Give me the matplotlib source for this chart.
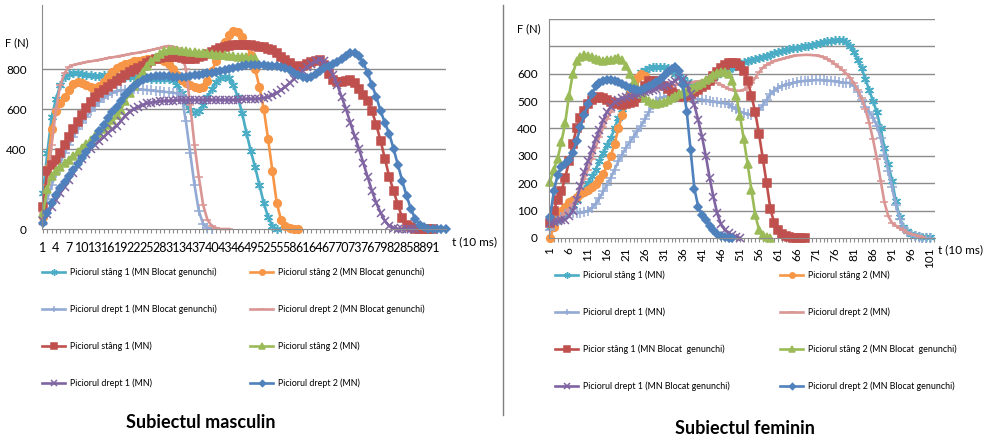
import matplotlib
matplotlib.use('Agg')
import matplotlib.pyplot as plt
from matplotlib.lines import Line2D

plt.rcParams['font.family'] = ['Lato', 'DejaVu Sans']

# ---- left chart: Subiectul masculin (F in N, t in 10 ms) ----
m_names = ['Piciorul stâng 1 (MN Blocat genunchi)', 'Piciorul stâng 2 (MN Blocat genunchi)',
           'Piciorul drept 1 (MN Blocat genunchi)', 'Piciorul drept 2 (MN Blocat genunchi)',
           'Piciorul stâng 1 (MN)', 'Piciorul stâng 2 (MN)',
           'Piciorul drept 1 (MN)', 'Piciorul drept 2 (MN)']

m_stang1_bg = [180, 380, 560, 650, 720, 760, 775, 780, 778, 775,
               770, 768, 765, 765, 768, 770, 770, 765, 760, 760,
               760, 760, 760, 758, 755, 752, 750, 748, 748, 750,
               745, 720, 680, 630, 595, 580, 590, 620, 660, 700,
               735, 755, 762, 755, 720, 660, 580, 480, 390, 310,
               220, 130, 60, 15, 0]
m_stang2_bg = [60, 300, 500, 590, 630, 660, 695, 725, 735, 730,
               720, 708, 705, 715, 735, 760, 785, 805, 815, 825,
               832, 838, 842, 845, 848, 850, 850, 848, 840, 825,
               800, 770, 745, 730, 718, 708, 705, 712, 740, 790,
               840, 890, 935, 970, 990, 985, 960, 920, 870, 800,
               710, 600, 450, 290, 130, 45, 15, 5, 0, 0]
m_drept1_bg = [60, 150, 220, 280, 330, 380, 420, 460, 500, 530,
               560, 590, 615, 635, 655, 670, 680, 688, 693, 695,
               697, 698, 698, 697, 695, 693, 690, 688, 686, 684,
               682, 678, 670, 540, 380, 220, 90, 25, 5, 0]
m_drept2_bg = [80, 220, 420, 600, 720, 780, 810, 820, 825, 830,
               835, 838, 842, 846, 850, 855, 858, 862, 866, 870,
               874, 878, 882, 886, 890, 895, 900, 905, 912, 915,
               912, 905, 880, 800, 620, 420, 260, 120, 45, 15,
               5, 0, 0, 0]
m_stang1 = [110, 290, 320, 345, 380, 420, 460, 500, 535, 570,
            605, 635, 660, 680, 695, 710, 725, 740, 755, 770,
            785, 795, 805, 815, 828, 840, 850, 855, 858, 860,
            860, 858, 855, 850, 850, 852, 858, 865, 875, 885,
            895, 905, 910, 915, 918, 920, 920, 920, 918, 915,
            912, 908, 902, 895, 880, 862, 845, 830, 815, 810,
            815, 825, 835, 842, 845, 820, 775, 745, 735, 735,
            740, 745, 730, 700, 670, 640, 590, 520, 440, 350,
            260, 190, 120, 55, 20, 8, 2, 0, 0, 0, 0]
m_stang2 = [80, 200, 265, 290, 310, 330, 345, 365, 385, 405,
            425, 445, 465, 480, 500, 520, 545, 570, 595, 640,
            680, 715, 750, 785, 815, 840, 860, 875, 888, 895,
            895, 893, 890, 888, 885, 883, 882, 880, 878, 875,
            872, 870, 868, 866, 864, 862, 860, 858, 856, 855]
m_drept1 = [40, 75, 110, 145, 180, 210, 245, 280, 315, 350,
            375, 400, 420, 440, 460, 480, 498, 515, 540, 565,
            585, 600, 610, 620, 628, 632, 635, 638, 640, 640,
            642, 643, 645, 645, 645, 645, 645, 645, 645, 645,
            645, 645, 645, 645, 645, 645, 648, 650, 650, 650,
            652, 655, 660, 668, 680, 695, 712, 730, 750, 770,
            790, 810, 825, 838, 845, 840, 815, 770, 720, 660,
            600, 530, 465, 400, 330, 260, 190, 130, 80, 40,
            15, 5, 0, 0, 0, 0, 0]
m_drept2 = [30, 80, 130, 170, 205, 235, 265, 295, 325, 355,
            385, 420, 455, 490, 520, 555, 585, 610, 640, 670,
            695, 715, 730, 745, 755, 762, 765, 765, 765, 763,
            760, 760, 760, 762, 765, 770, 772, 775, 778, 782,
            786, 790, 795, 800, 805, 810, 815, 818, 820, 820,
            820, 818, 816, 815, 813, 810, 805, 795, 782, 770,
            760, 755, 760, 775, 790, 805, 815, 825, 835, 850,
            865, 878, 880, 865, 830, 780, 720, 660, 590, 530,
            475, 400, 320, 240, 165, 100, 50, 20, 8, 2,
            0, 0, 0, 0]
m_series = [m_stang1_bg, m_stang2_bg, m_drept1_bg, m_drept2_bg,
            m_stang1, m_stang2, m_drept1, m_drept2]
m_ncat = 94

# ---- right chart: Subiectul feminin ----
f_names = ['Piciorul stâng 1 (MN)', 'Piciorul stâng 2 (MN)',
           'Piciorul drept 1 (MN)', 'Piciorul drept 2 (MN)',
           'Picior stâng 1 (MN Blocat  genunchi)', 'Piciorul stâng 2 (MN Blocat  genunchi)',
           'Piciorul drept 1 (MN Blocat genunchi)', 'Piciorul drept 2 (MN Blocat genunchi)']

f_stang1 = [40, 55, 65, 75, 85, 100, 120, 140, 160, 180,
            200, 225, 250, 280, 310, 340, 365, 400, 440, 470,
            500, 530, 560, 585, 605, 615, 622, 625, 625, 625,
            625, 622, 618, 600, 590, 580, 570, 565, 560, 560,
            565, 570, 575, 585, 595, 605, 612, 618, 622, 630,
            636, 642, 648, 652, 655, 658, 662, 666, 670, 675,
            680, 684, 688, 690, 693, 695, 698, 700, 703, 706,
            710, 713, 716, 718, 720, 722, 723, 722, 715, 700,
            680, 650, 620, 580, 540, 500, 460, 400, 330, 270,
            210, 135, 75, 42, 24, 15, 10, 7, 5, 4, 3]
f_stang2 = [0, 40, 75, 100, 115, 130, 140, 150, 160, 168,
            175, 185, 198, 215, 235, 265, 300, 345, 400, 450,
            495, 530, 560, 585, 600, 590]
f_drept1 = [30, 50, 65, 78, 88, 92, 93, 93, 92, 95,
            100, 110, 125, 145, 170, 195, 220, 250, 280, 305,
            330, 350, 370, 390, 410, 435, 460, 485, 500, 510,
            515, 518, 518, 517, 516, 515, 513, 511, 509, 507,
            505, 503, 500, 498, 496, 494, 492, 488, 480, 470,
            462, 457, 452, 450, 455, 468, 485, 505, 525, 538,
            548, 555, 560, 564, 567, 570, 572, 574, 575, 576,
            577, 577, 576, 575, 574, 572, 570, 568, 567, 566,
            555, 535, 505, 480, 460, 440, 410, 365, 305, 245,
            185, 120, 70, 40, 22, 12, 6, 3, 1, 0, 0]
f_drept2 = [50, 60, 70, 80, 90, 105, 125, 150, 180, 215,
            250, 290, 330, 370, 405, 435, 460, 480, 495, 505,
            510, 515, 520, 525, 530, 535, 540, 545, 548, 550,
            553, 556, 558, 560, 562, 564, 566, 568, 570, 572,
            575, 577, 576, 572, 566, 560, 552, 545, 540, 538,
            538, 542, 550, 565, 585, 605, 622, 632, 640, 646,
            650, 654, 658, 662, 665, 667, 668, 669, 669, 668,
            667, 664, 660, 653, 645, 635, 625, 613, 600, 585,
            565, 540, 510, 470, 420, 360, 290, 210, 130, 80,
            55, 45, 35, 28, 20, 15, 11, 7, 4]
f_stang1_bg = [55, 100, 140, 170, 220, 280, 345, 400, 440, 465,
               490, 505, 512, 515, 512, 505, 498, 492, 488, 486,
               488, 492, 498, 510, 530, 555, 572, 575, 572, 565,
               555, 545, 535, 525, 518, 515, 518, 525, 532, 540,
               550, 560, 575, 590, 605, 620, 632, 638, 640, 638,
               630, 610, 575, 520, 460, 380, 290, 200, 105, 55,
               30, 15, 8, 3, 0, 0, 0, 0]
f_stang2_bg = [205, 250, 290, 350, 420, 520, 600, 645, 662, 668,
               665, 660, 655, 650, 648, 650, 652, 655, 658, 650,
               630, 600, 570, 545, 525, 510, 500, 493, 490, 492,
               498, 505, 512, 518, 525, 532, 538, 545, 552, 560,
               568, 577, 586, 595, 602, 606, 605, 598, 575, 520,
               445, 360, 270, 175, 85, 30, 10, 3, 0]
f_drept1_bg = [55, 60, 62, 64, 66, 80, 100, 140, 190, 240,
               280, 320, 360, 395, 430, 460, 480, 495, 505, 510,
               515, 520, 522, 525, 528, 532, 536, 540, 545, 550,
               555, 560, 565, 575, 585, 580, 560, 525, 485, 430,
               370, 300, 220, 150, 90, 50, 30, 18, 10, 5, 0]
f_drept2_bg = [75, 170, 230, 260, 270, 285, 310, 355, 405, 450,
               490, 525, 555, 568, 575, 578, 578, 575, 570, 562,
               555, 548, 543, 540, 542, 548, 555, 562, 570, 578,
               590, 605, 618, 625, 610, 560, 460, 320, 180, 115,
               85, 65, 45, 28, 15, 6, 2, 0, 0]
f_series = [f_stang1, f_stang2, f_drept1, f_drept2,
            f_stang1_bg, f_stang2_bg, f_drept1_bg, f_drept2_bg]
f_ncat = 102

# same look for the n-th series in both charts (Excel 2007 palette)
colors = ['#4BACC6', '#F79646', '#93AAD4', '#D99694', '#C0504D', '#9BBB59', '#8064A2', '#4F81BD']
markers = [(6, 2, 0), 'o', '+', '_', 's', '^', 'x', 'D']
msizes = [6.5, 5.5, 6.5, 5.5, 5.5, 6, 6, 4.5]
grid_col = '#8c8c8c'

fig = plt.figure(figsize=(9.86, 4.36), dpi=100)
W, H = 986.0, 436.0


def draw_lines(ax, series):
    lines = []
    for k, vals in enumerate(series):
        x = range(1, len(vals) + 1)
        ln, = ax.plot(x, vals, color=colors[k], lw=1.9, marker=markers[k], ms=msizes[k],
                      mfc=colors[k], mec=colors[k], mew=1.1, clip_on=False)
        lines.append(ln)
    return lines


def style_axes(ax):
    for s in ['top', 'right']:
        ax.spines[s].set_visible(False)
    ax.spines['left'].set_color(grid_col)
    ax.spines['bottom'].set_color(grid_col)
    ax.tick_params(axis='y', length=0, labelsize=8.5)
    ax.tick_params(axis='x', length=3, color=grid_col, direction='out')


def add_legends(lines, names, x1, x2, yc):
    # rows are read left to right, so split into two one-column legends
    for col, x in [(0, x1), (1, x2)]:
        hs = [lines[i] for i in range(col, 8, 2)]
        ls = [names[i] for i in range(col, 8, 2)]
        fig.legend(hs, ls, loc='center left', bbox_to_anchor=(x / W, 1 - yc / H),
                   frameon=False, fontsize=6.4, labelspacing=3.1, handlelength=2.6,
                   handletextpad=0.5, borderpad=0, borderaxespad=0, numpoints=1,
                   markerscale=0.7)


# left chart
ax1 = fig.add_axes([42 / W, 1 - 229 / H, (446 - 42) / W, (229 - 5) / H])
m_lines = draw_lines(ax1, m_series)
ax1.set_xlim(0.77, m_ncat + 0.1)
ax1.set_ylim(0, 1120)
ax1.set_yticks([0, 400, 600, 800])
for g in [400, 600, 800]:
    ax1.axhline(g, color=grid_col, lw=1, zorder=0)
ax1.set_xticks(range(1, m_ncat + 1))
ax1.set_xticklabels([str(i) if (i - 1) % 3 == 0 and i <= 91 else '' for i in range(1, m_ncat + 1)],
                    fontsize=9)
style_axes(ax1)
ax1.tick_params(axis='y', pad=11)
ax1.tick_params(axis='x', pad=6)
fig.text(5 / W, 1 - 43 / H, 'F (N)', fontsize=8, va='center')
fig.text(452 / W, 1 - 242 / H, 't (10 ms)', fontsize=8.5, va='center')
add_legends(m_lines, m_names, 42, 250, 328)

# right chart
ax2 = fig.add_axes([549 / W, 1 - 238 / H, (935 - 549) / W, (238 - 19) / H])
f_lines = draw_lines(ax2, f_series)
ax2.set_xlim(0.74, f_ncat + 0.3)
ax2.set_ylim(0, 800)
ax2.set_yticks(range(0, 900, 100))
ax2.set_yticklabels([str(v) if v <= 600 else '' for v in range(0, 900, 100)])
for g in range(100, 900, 100):
    ax2.axhline(g, color=grid_col, lw=1, zorder=0)
ax2.set_xticks(range(1, f_ncat + 1))
ax2.set_xticklabels([str(i) if (i - 1) % 5 == 0 else '' for i in range(1, f_ncat + 1)],
                    rotation=90, fontsize=8.5)
style_axes(ax2)
ax2.tick_params(axis='y', pad=8)
fig.text(517 / W, 1 - 29 / H, 'F (N)', fontsize=8, va='center')
fig.text(938 / W, 1 - 250 / H, 't (10 ms)', fontsize=8.5, va='center')
add_legends(f_lines, f_names, 555, 780, 331)

# divider between the two panels
fig.add_artist(Line2D([503 / W, 503 / W], [1 - 5 / H, 1 - 415 / H], color='#7f7f7f', lw=1))

fig.text(201 / W, 1 - 422 / H, 'Subiectul masculin', ha='center', va='center',
         fontsize=13, fontweight='bold')
fig.text(745 / W, 1 - 428 / H, 'Subiectul feminin', ha='center', va='center',
         fontsize=13, fontweight='bold')

fig.savefig('out.png', dpi=100)
